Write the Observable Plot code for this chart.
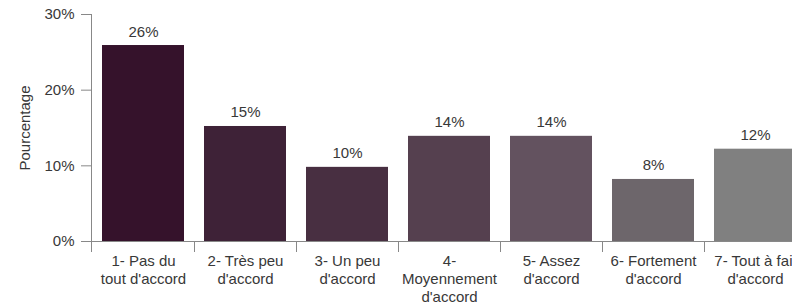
<!DOCTYPE html>
<html><head><meta charset="utf-8">
<script src="https://cdn.jsdelivr.net/npm/d3@7"></script>
<script src="https://cdn.jsdelivr.net/npm/@observablehq/plot@0.6"></script>
<style>
html,body{margin:0;padding:0;background:#fff;overflow:hidden;width:792px;height:305px;}
#wrap{position:relative;width:792px;height:305px;overflow:hidden;}
#title{position:absolute;left:0;top:-13px;margin:0;font:bold 16px "Liberation Sans",Arial,sans-serif;color:#333;line-height:16px;white-space:nowrap;}
#chart{position:absolute;left:0;top:0;width:820px;}
#chart svg{max-width:none !important;}
</style></head><body>
<div id="wrap"><h2 id="title">Accord by period, 2020</h2><div id="chart"></div></div>
<script>
const categories = ["1- Pas du tout d'accord","2- Très peu d'accord","3- Un peu d'accord","4- Moyennement d'accord","5- Assez d'accord","6- Fortement d'accord","7- Tout à fait d'accord"];
const tickLabels = ["1- Pas du\ntout d'accord","2- Très peu\nd'accord","3- Un peu\nd'accord","4-\nMoyennement\nd'accord","5- Assez\nd'accord","6- Fortement\nd'accord","7- Tout à fait\nd'accord"];
const values = [25.9, 15.2, 9.8, 13.9, 13.9, 8.2, 12.2];
const valueLabels = ["26%","15%","10%","14%","14%","8%","12%"];
const yTicks = [0, 10, 20, 30];
const colors = ["#35122b","#3e2237","#482f41","#55404f","#63525f","#6d666b","#808080"];
const yLabel = "Pourcentage";

const data = categories.map((c, i) => ({category: c, value: values[i], label: valueLabels[i]}));
const axisColor = "#888";
const textColor = "#383838";

const plot = Plot.plot({
  width: 820, height: 305,
  marginTop: 14, marginBottom: 64, marginLeft: 92, marginRight: 14,
  style: {fontFamily: '"Liberation Sans", Arial, sans-serif', fontSize: "15px", color: textColor, background: "#fff"},
  x: {domain: categories, paddingInner: 0.2, paddingOuter: 0.1},
  y: {domain: [0, 30]},
  color: {domain: categories, range: colors},
  marks: [
    Plot.barY(data, {x: "category", y: "value", fill: "category"}),
    Plot.text(data, {x: "category", y: "value", text: "label", lineAnchor: "bottom", dy: -9, fill: textColor, fontSize: 15}),
    Plot.axisY({ticks: yTicks, tickFormat: d => d + "%", tickSize: 11, tickPadding: 7, stroke: axisColor, fill: textColor, label: null}),
    Plot.text([yLabel], {frameAnchor: "left", rotate: -90, textAnchor: "middle", lineAnchor: "middle", dx: -67, fill: textColor, fontSize: 15}),
    Plot.axisX({tickSize: 0, tickPadding: 12, tickFormat: d => tickLabels[categories.indexOf(d)], lineHeight: 1.2, label: null, fill: textColor}),
    Plot.ruleY([0], {stroke: axisColor})
  ]
});
document.getElementById("chart").appendChild(plot);

// y domain line and x boundary ticks, positioned through Plot's scales
const sx = plot.scale("x"), sy = plot.scale("y");
const svg = d3.select(plot);
const g = svg.append("g").attr("stroke", axisColor).attr("fill", "none");
const x0 = sx.range[0];
g.append("line").attr("x1", x0 - 0.5).attr("x2", x0 - 0.5).attr("y1", sy.apply(30)).attr("y2", sy.apply(0) + 11);
const step = sx.step ?? (sx.bandwidth / (1 - sx.paddingInner));
const half = (step - sx.bandwidth) / 2;
const bounds = categories.map(c => sx.apply(c) - half).concat([sx.apply(categories[categories.length - 1]) + sx.bandwidth + half]);
bounds.slice(1).forEach(b => {
  g.append("line").attr("x1", Math.round(b) + 0.5).attr("x2", Math.round(b) + 0.5).attr("y1", sy.apply(0)).attr("y2", sy.apply(0) + 11);
});
</script>
</body></html>
